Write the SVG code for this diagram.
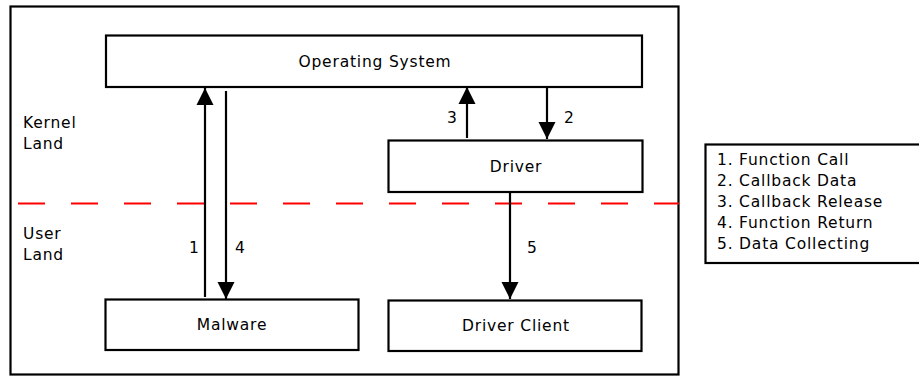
<svg xmlns="http://www.w3.org/2000/svg" width="919" height="376" viewBox="0 0 919 376">
<style>
.box{fill:#fff;stroke:#000;stroke-width:2.2}
.t{font-family:"DejaVu Sans",sans-serif;font-size:15.5px;letter-spacing:0.8px;fill:#000}
.c{text-anchor:middle}
.ln{stroke:#000;stroke-width:2.2;fill:none}
</style>
<defs>
<marker id="ah" markerWidth="17" markerHeight="18" refX="17" refY="8.5" orient="auto" markerUnits="userSpaceOnUse" viewBox="0 0 17 17">
<path d="M0,0 L17,8.5 L0,17 Z" fill="#000"/>
</marker>
</defs>
<rect x="0" y="0" width="919" height="376" fill="#fff"/>
<g id="frame"><rect x="10.5" y="6.5" width="668" height="368" class="box" fill="none"/></g>
<g id="divider"><line x1="18" y1="203.5" x2="679" y2="203.5" stroke="#f00" stroke-width="2.2" stroke-dasharray="27,26"/></g>
<g id="kernel-label"><text class="t" x="23" y="128">Kernel</text><text class="t" x="23" y="149">Land</text></g>
<g id="user-label"><text class="t" x="23" y="239">User</text><text class="t" x="23" y="260">Land</text></g>
<g id="os"><rect class="box" x="106" y="35.5" width="536" height="51.5"/><text class="t c" x="375" y="67">Operating System</text></g>
<g id="driver"><rect class="box" x="388.5" y="140.5" width="254" height="51.5"/><text class="t c" x="516" y="172">Driver</text></g>
<g id="malware"><rect class="box" x="105.5" y="299.5" width="253" height="50.5"/><text class="t c" x="232" y="330">Malware</text></g>
<g id="client"><rect class="box" x="388.5" y="300.5" width="253" height="50.5"/><text class="t c" x="516" y="331">Driver Client</text></g>
<g id="legend"><rect class="box" x="705.5" y="144.5" width="216" height="118.5"/>
<text class="t" x="717" y="165">1. Function Call</text>
<text class="t" x="717" y="186">2. Callback Data</text>
<text class="t" x="717" y="207">3. Callback Release</text>
<text class="t" x="717" y="228">4. Function Return</text>
<text class="t" x="717" y="249">5. Data Collecting</text>
</g>
<g id="connectors">
<line class="ln" x1="205" y1="297" x2="205" y2="88" marker-end="url(#ah)"/>
<line class="ln" x1="226" y1="91" x2="226" y2="299" marker-end="url(#ah)"/>
<line class="ln" x1="467" y1="138" x2="467" y2="87" marker-end="url(#ah)"/>
<line class="ln" x1="547" y1="88" x2="547" y2="139" marker-end="url(#ah)"/>
<line class="ln" x1="510" y1="192" x2="510" y2="299" marker-end="url(#ah)"/>
<text class="t" x="189" y="253">1</text>
<text class="t" x="235" y="253">4</text>
<text class="t" x="447" y="123">3</text>
<text class="t" x="564" y="123">2</text>
<text class="t" x="527" y="253">5</text>
</g>
</svg>
